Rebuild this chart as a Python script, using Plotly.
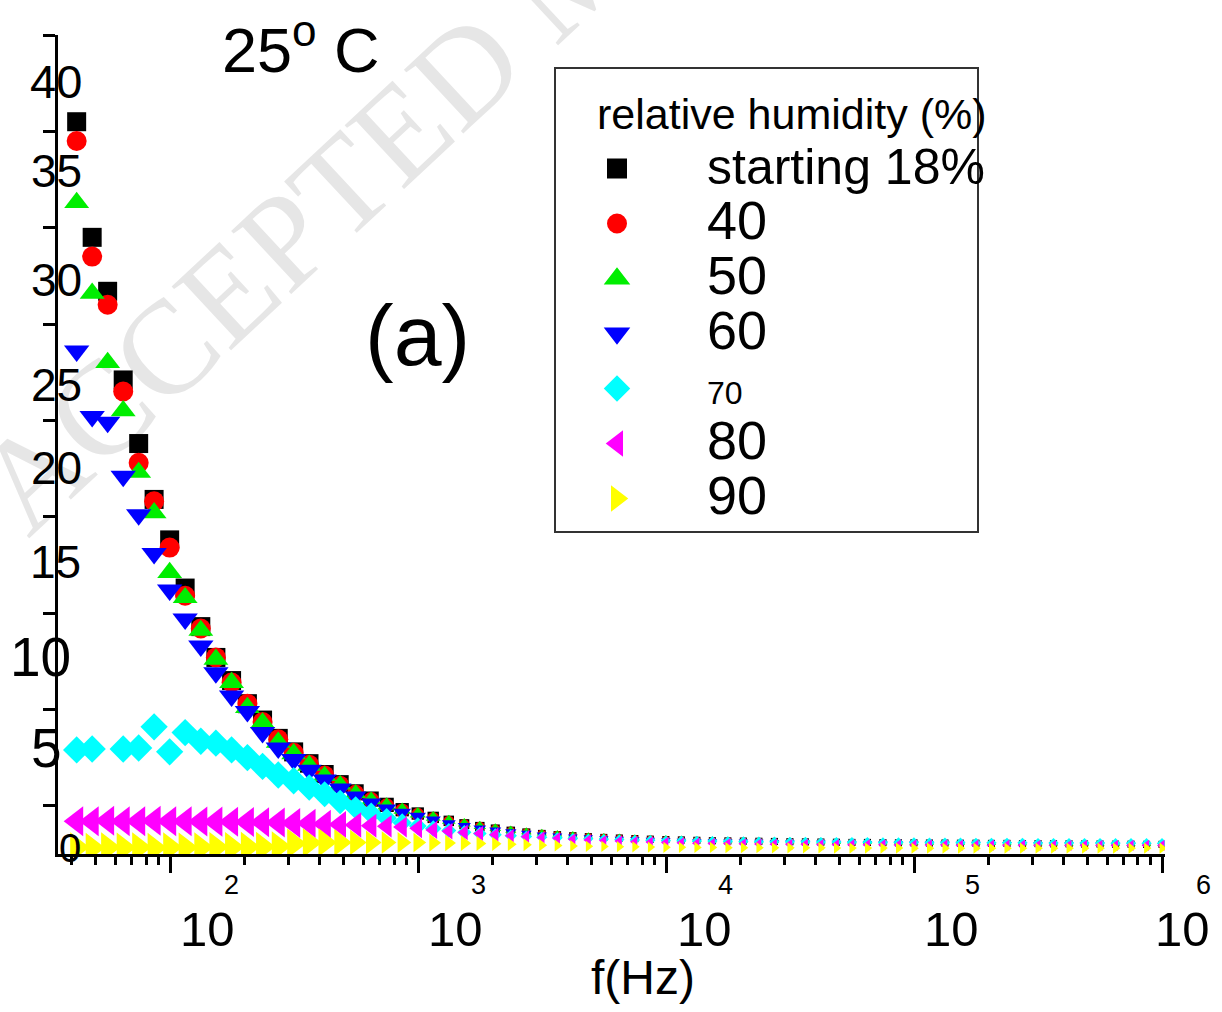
import math
import plotly.graph_objects as go

# ---------------- data ----------------
freq_hz = [42, 48.5, 56.0, 64.7, 74.7, 86.2, 99.6, 115, 133, 153,
           177, 205, 236, 273, 315, 364, 420, 485, 560, 647,
           747, 863, 997, 1151, 1330, 1536, 1774, 2048, 2365, 2732,
           3155, 3643, 4207, 4859, 5611, 6481, 7484, 8643, 9981, 11527,
           13312, 15373, 17754, 20503, 23678, 27346, 31579, 36470, 42113, 48641,
           56171, 64866, 74918, 86518, 99908, 115380, 133240, 153870, 177690, 205230,
           237000, 273700, 316200, 365100, 421600, 486900, 562300, 649300, 749900, 866100,
           1000000]

rh_labels = ["starting 18%", "40", "50", "60", "70", "80", "90"]

eps_rh18 = [38.0, 32.0, 29.2, 24.6, 21.3, 18.4, 16.3, 13.8, 11.8, 10.2,
            9.0, 7.8, 6.95, 6.0, 5.3, 4.7, 4.15, 3.65, 3.2, 2.85,
            2.55, 2.3, 2.1, 1.9, 1.72, 1.55, 1.42, 1.3, 1.2, 1.12,
            1.05, 0.99, 0.94, 0.9, 0.86, 0.83, 0.8, 0.77, 0.75, 0.73,
            0.71, 0.69, 0.68, 0.67, 0.66, 0.65, 0.64, 0.63, 0.62, 0.61,
            0.6, 0.6, 0.59, 0.58, 0.58, 0.57, 0.57, 0.56, 0.56, 0.55,
            0.55, 0.54, 0.54, 0.53, 0.53, 0.52, 0.52, 0.51, 0.51, 0.5,
            0.5]
eps_rh40 = [37.0, 31.0, 28.5, 24.0, 20.3, 18.3, 15.9, 13.4, 11.7, 10.2,
            8.9, 7.8, 6.85, 5.95, 5.25, 4.65, 4.1, 3.6, 3.15, 2.8,
            2.5, 2.26, 2.06, 1.87, 1.7, 1.54, 1.41, 1.29, 1.19, 1.11,
            1.04, 0.98, 0.93, 0.89, 0.85, 0.82, 0.79, 0.76, 0.74, 0.72,
            0.7, 0.68, 0.67, 0.66, 0.65, 0.64, 0.63, 0.62, 0.61, 0.6,
            0.59, 0.59, 0.58, 0.57, 0.57, 0.56, 0.56, 0.55, 0.55, 0.54,
            0.54, 0.53, 0.53, 0.52, 0.52, 0.51, 0.51, 0.5, 0.5, 0.49,
            0.49]
eps_rh50 = [33.8, 29.1, 25.5, 23.0, 19.8, 17.7, 14.6, 13.3, 11.6, 10.1,
            8.9, 7.6, 6.8, 5.8, 5.2, 4.6, 4.05, 3.6, 3.15, 2.8,
            2.52, 2.28, 2.08, 1.9, 1.73, 1.57, 1.44, 1.33, 1.23, 1.15,
            1.08, 1.02, 0.97, 0.92, 0.88, 0.85, 0.82, 0.79, 0.77, 0.75,
            0.73, 0.71, 0.7, 0.69, 0.68, 0.67, 0.66, 0.65, 0.64, 0.63,
            0.62, 0.62, 0.61, 0.6, 0.6, 0.59, 0.59, 0.58, 0.58, 0.57,
            0.57, 0.56, 0.56, 0.55, 0.55, 0.54, 0.54, 0.53, 0.53, 0.52,
            0.52]
eps_rh60 = [26.1, 22.7, 22.4, 19.6, 17.6, 15.6, 13.7, 12.2, 10.8, 9.4,
            8.2, 7.4, 6.3, 5.5, 4.9, 4.35, 3.85, 3.4, 3.0, 2.65,
            2.35, 2.15, 1.95, 1.78, 1.6, 1.46, 1.34, 1.24, 1.15, 1.08,
            1.0, 0.95, 0.9, 0.86, 0.82, 0.79, 0.76, 0.73, 0.71, 0.69,
            0.67, 0.66, 0.65, 0.64, 0.63, 0.62, 0.61, 0.6, 0.59, 0.58,
            0.57, 0.57, 0.56, 0.55, 0.55, 0.54, 0.54, 0.53, 0.53, 0.52,
            0.52, 0.51, 0.51, 0.5, 0.5, 0.49, 0.49, 0.48, 0.48, 0.47,
            0.47]
eps_rh70 = [5.4, 5.45, None, 5.45, 5.5, 6.6, 5.3, 6.3, 5.85, 5.75,
            5.4, 5.0, 4.55, 4.1, 3.8, 3.45, 3.1, 2.7, 2.4, 2.1,
            1.85, 1.62, 1.45, 1.32, 1.22, 1.13, 1.06, 1.0, 0.95, 0.91,
            0.87, 0.84, 0.81, 0.79, 0.77, 0.75, 0.73, 0.72, 0.7, 0.69,
            0.68, 0.67, 0.66, 0.65, 0.64, 0.64, 0.63, 0.63, 0.62, 0.62,
            0.61, 0.61, 0.6, 0.6, 0.6, 0.59, 0.59, 0.59, 0.58, 0.58,
            0.58, 0.58, 0.57, 0.57, 0.57, 0.57, 0.57, 0.56, 0.56, 0.56,
            0.56]
eps_rh80 = [1.7, 1.7, 1.72, 1.7, 1.7, 1.72, 1.7, 1.7, 1.69, 1.68,
            1.67, 1.66, 1.65, 1.63, 1.61, 1.59, 1.56, 1.53, 1.5, 1.47,
            1.44, 1.4, 1.33, 1.25, 1.18, 1.12, 1.06, 1.0, 0.95, 0.9,
            0.86, 0.82, 0.77, 0.73, 0.7, 0.67, 0.64, 0.62, 0.6, 0.58,
            0.56, 0.55, 0.54, 0.53, 0.52, 0.51, 0.5, 0.5, 0.49, 0.49,
            0.48, 0.48, 0.48, 0.47, 0.47, 0.47, 0.47, 0.46, 0.46, 0.46,
            0.46, 0.46, 0.45, 0.45, 0.45, 0.45, 0.45, 0.45, 0.45, 0.45,
            0.45]
eps_rh90 = [0.35, 0.33, 0.35, 0.34, 0.35, 0.33, 0.35, 0.34, 0.35, 0.36,
            0.36, 0.37, 0.38, 0.4, 0.55, 0.58, 0.6, 0.6, 0.6, 0.6,
            0.6, 0.6, 0.6, 0.58, 0.57, 0.56, 0.55, 0.53, 0.5, 0.48,
            0.46, 0.44, 0.42, 0.4, 0.39, 0.38, 0.37, 0.36, 0.35, 0.35,
            0.34, 0.34, 0.33, 0.33, 0.33, 0.32, 0.32, 0.32, 0.32, 0.31,
            0.31, 0.31, 0.31, 0.31, 0.3, 0.3, 0.3, 0.3, 0.3, 0.3,
            0.3, 0.3, 0.3, 0.3, 0.3, 0.3, 0.3, 0.3, 0.3, 0.3,
            0.3]

xtick_vals = [1e2, 1e3, 1e4, 1e5, 1e6]
xtick_base = ["10", "10", "10", "10", "10"]
xtick_exp = ["2", "3", "4", "5", "6"]
ytick_vals = [0, 5, 10, 15, 20, 25, 30, 35, 40]
ytick_labels = ["0", "5", "10", "15", "20", "25", "30", "35", "40"]

all_series = [eps_rh18, eps_rh40, eps_rh50, eps_rh60, eps_rh70, eps_rh80, eps_rh90]

# ---------------- styling ----------------
W, H = 1222, 1012
L, R, T, B = 58, 1165, 35, 854          # plot area in pixels
REG = "Liberation Sans, Arial, Helvetica, sans-serif"
NARROW = "Liberation Sans Narrow, Arial Narrow, Liberation Sans, Arial, sans-serif"
SERIF = "Liberation Serif, Times New Roman, DejaVu Serif, serif"


def px_x(px):
    return (px - L) / (R - L)


def px_y(py):
    return (B - py) / (B - T)


symbols = ["square", "circle", "triangle-up", "triangle-down", "diamond",
           "triangle-left", "triangle-right"]
colors = ["#000000", "#ff0000", "#00ee00", "#0000ff", "#00ffff", "#ff00ff", "#ffff00"]
size_scale = [0.95, 1.0, 1.08, 1.1, 1.05, 1.3, 1.3]
legend_font_px = [50, 54, 54, 54, 32, 54, 54]

# marker size shrinks along the frequency axis as in the original figure
size_profile = ([20] * 15 + [19.5, 19, 18, 17, 16, 15, 14, 13, 12, 11,
                             10.5, 10, 9.5, 9, 8.5, 8.2, 8, 7.8]
                + [7.5] * (len(freq_hz) - 33))

fig = go.Figure()

for name, vals, sym, col, sc in zip(rh_labels, all_series, symbols, colors, size_scale):
    fig.add_trace(go.Scatter(
        x=freq_hz, y=vals, mode="markers", name=name, legendgroup=name,
        showlegend=False,
        marker=dict(symbol=sym, color=col, size=[s * sc for s in size_profile],
                    opacity=1, line=dict(width=0)),
        cliponaxis=True,
    ))

# legend entries (one constant-size symbol per series; outline enlarges the glyph)
for name, sym, col, lf in zip(rh_labels, symbols, colors, legend_font_px):
    fig.add_trace(go.Scatter(
        x=[None], y=[None], mode="markers", legendgroup=name, showlegend=True,
        name=f"<span style='font-size:{lf}px'>{name}</span>",
        marker=dict(symbol=sym, color=col, size=22, opacity=1,
                    line=dict(width=4, color=col)),
    ))

annotations = []
# y tick labels
ylab_size = [40, 55, 55, 46, 46, 46, 46, 46, 47]
ylab_right = [82, 63, 72, 82, 83, 83, 83, 83, 83]
ylab_yshift = [6, 10, 4, 3, 1, -13, -4, 9, 2]
for v, t, s, rr, ys in zip(ytick_vals, ytick_labels, ylab_size, ylab_right, ylab_yshift):
    annotations.append(dict(x=0, xref="paper", y=v, yref="y", text=t, showarrow=False,
                            xanchor="right", yanchor="middle", xshift=rr - L, yshift=ys,
                            font=dict(family=NARROW, size=s, color="black"), borderpad=0))
# x tick labels (10 with a raised exponent); log axis -> positions in log10 units
xlab_shift = [37, 37, 38, 37, 20]
xexp_shift = [61, 60, 59, 58, 41]
for v, b, e, s1, s2 in zip(xtick_vals, xtick_base, xtick_exp, xlab_shift, xexp_shift):
    annotations.append(dict(x=math.log10(v), xref="x", y=px_y(929), yref="paper", text=b,
                            showarrow=False, xanchor="center", yanchor="middle",
                            xshift=s1, font=dict(family=REG, size=49, color="black"),
                            borderpad=0))
    annotations.append(dict(x=math.log10(v), xref="x", y=px_y(885), yref="paper", text=e,
                            showarrow=False, xanchor="center", yanchor="middle",
                            xshift=s2, font=dict(family=REG, size=27, color="black"),
                            borderpad=0))
# axis title, panel texts, legend title
annotations += [
    dict(x=px_x(643), y=px_y(978), xref="paper", yref="paper", text="f(Hz)",
         showarrow=False, xanchor="center", yanchor="middle",
         font=dict(family=REG, size=48, color="black")),
    dict(x=px_x(220), y=px_y(46), xref="paper", yref="paper", text="25<sup>o</sup> C",
         showarrow=False, xanchor="left", yanchor="middle",
         font=dict(family=REG, size=63, color="black")),
    dict(x=px_x(363), y=px_y(335), xref="paper", yref="paper", text="(a)",
         showarrow=False, xanchor="left", yanchor="middle",
         font=dict(family=REG, size=86, color="black")),
    dict(x=px_x(595), y=px_y(114), xref="paper", yref="paper",
         text="relative humidity (%)", showarrow=False, xanchor="left", yanchor="middle",
         font=dict(family=NARROW, size=43, color="black")),
]

shapes = [
    # legend frame
    dict(type="rect", xref="paper", yref="paper", x0=px_x(555), x1=px_x(978),
         y0=px_y(532), y1=px_y(68), line=dict(color="#333333", width=2),
         fillcolor="rgba(0,0,0,0)", layer="below"),
    # faint journal watermark
    dict(type="line", xref="paper", yref="paper", x0=px_x(-12), y0=px_y(496),
         x1=px_x(720), y1=px_y(-187), line=dict(color="rgba(0,0,0,0)", width=0),
         layer="below",
         label=dict(text="ACCEPTED MANUSCRIPT", textposition="start", textangle=-43,
                    xanchor="left", yanchor="middle", padding=0,
                    font=dict(family=SERIF, size=133, color="#e6e6e6"))),
]

minor_x = [m * 10 ** k for k in range(1, 6) for m in range(2, 10) if m * 10 ** k >= 40]
minor_y = [2.5 + 5 * i for i in range(9)]

fig.update_layout(
    width=W, height=H,
    margin=dict(l=L, r=W - R, t=T, b=H - B, pad=0),
    paper_bgcolor="white", plot_bgcolor="white",
    font=dict(family=REG, color="black"),
    showlegend=True,
    legend=dict(x=px_x(527), y=px_y(136), xanchor="left", yanchor="top",
                bgcolor="rgba(0,0,0,0)", borderwidth=0, itemwidth=170,
                font=dict(family=REG, size=40, color="black"), tracegroupgap=0),
    annotations=annotations,
    shapes=shapes,
    xaxis=dict(type="log", range=[1.548, 6.012], showgrid=False, zeroline=False,
               showline=True, linecolor="black", linewidth=3,
               tickmode="array", tickvals=xtick_vals, showticklabels=False,
               ticks="outside", ticklen=16, tickwidth=3, tickcolor="black",
               minor=dict(tickmode="array", tickvals=minor_x, ticks="outside",
                          ticklen=8, tickwidth=2.5, tickcolor="black", showgrid=False),
               layer="below traces"),
    yaxis=dict(range=[0, 42.5], showgrid=False, zeroline=False,
               showline=True, linecolor="black", linewidth=3,
               tickmode="array", tickvals=ytick_vals, showticklabels=False, ticks="",
               minor=dict(tickmode="array", tickvals=minor_y, ticks="outside",
                          ticklen=12, tickwidth=3, tickcolor="black", showgrid=False)),
)

fig.write_html("out.html")
